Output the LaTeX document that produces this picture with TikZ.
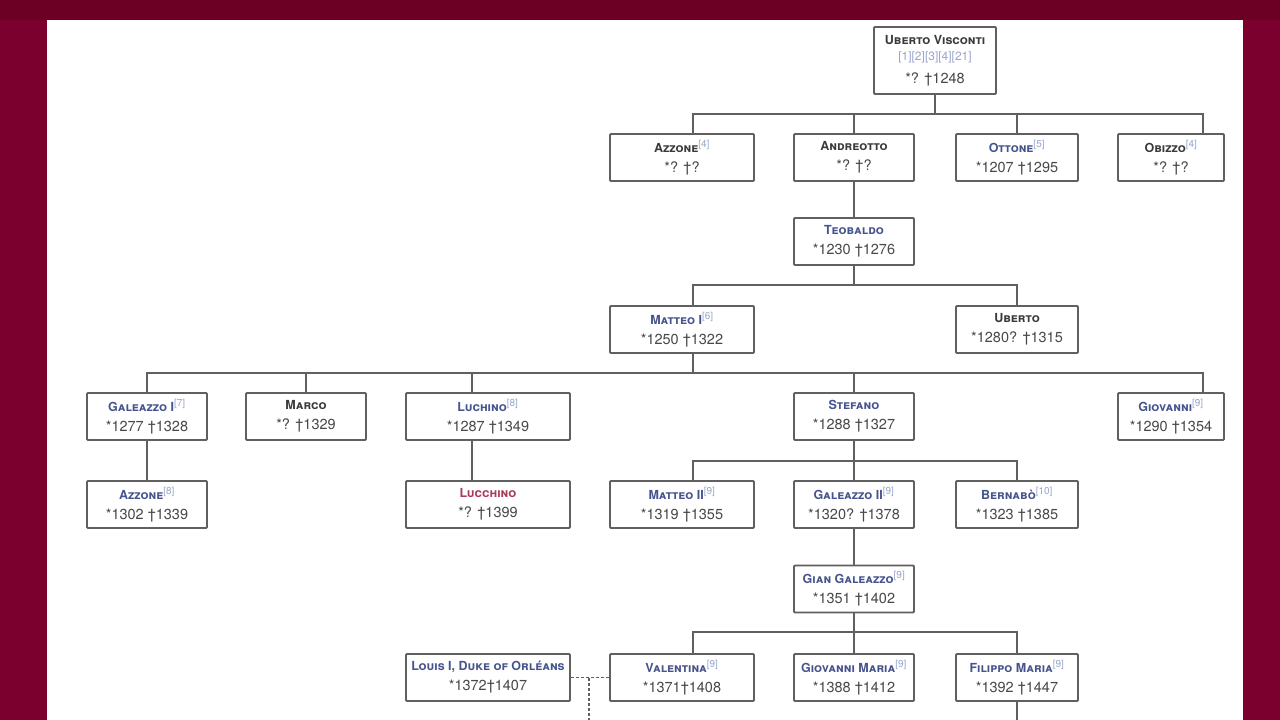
\documentclass[tikz,border=0pt]{standalone}
\usepackage{fontspec}
\setmainfont{TeX Gyre Heros}
\usepackage{xcolor}
\definecolor{framecol}{HTML}{7C002D}
\definecolor{framedark}{HTML}{6C0024}
\definecolor{linecol}{HTML}{606060}
\definecolor{namecol}{HTML}{3A3A3A}
\definecolor{linkcol}{HTML}{46548E}
\definecolor{redlinkcol}{HTML}{A83A5A}
\definecolor{refcol}{HTML}{98A6CC}
\definecolor{datecol}{HTML}{484848}
\tikzset{person/.style = {shape=rectangle,draw=linecol,line width=1.8pt,rounded corners=1pt,fill=white,
        align=center,minimum height=47pt,inner sep=0pt,text=datecol,font=\fontsize{14.5}{20}\selectfont}}
\tikzset{w106/.style = {person,minimum width=106pt}}
\tikzset{w120/.style = {person,minimum width=120pt}}
\tikzset{w122/.style = {person,minimum width=122pt}}
\tikzset{w144/.style = {person,minimum width=144pt}}
\tikzset{w164/.style = {person,minimum width=164pt}}
\tikzset{link/.style = {draw=linecol,line width=1.8pt}}
\newcommand{\plainname}[1]{{\color{namecol}\fontsize{12.5}{20}\selectfont\bfseries\textsc{#1}}}
\newcommand{\bluename}[1]{{\color{linkcol}\fontsize{12.5}{20}\selectfont\bfseries\textsc{#1}}}
\newcommand{\redname}[1]{{\color{redlinkcol}\fontsize{12.5}{20}\selectfont\bfseries\textsc{#1}}}
\newcommand{\refmark}[1]{\textsuperscript{\color{refcol}\fontsize{10}{10}\selectfont[#1]}}
\begin{document}
\begin{tikzpicture}[x=1pt,y=-1pt]
    \useasboundingbox (0,0) rectangle (1280,720);
    \fill[framecol] (0,0) rectangle (1280,720);
    \fill[framedark] (0,0) rectangle (1280,20);
    \fill[white] (47,20) rectangle (1243,720);

    \node[w122,minimum height=67pt] (uberto) at (935,60.5) {\plainname{Uberto Visconti}\\[-4pt]
        {\color{refcol}\fontsize{12}{12}\selectfont[1][2][3][4][21]}\\[3pt]*? †1248};

    \node[w144] (azzoneA) at (682,157.5) {\plainname{Azzone}\refmark{4}\\*? †?};
    \node[w120] (andreotto) at (854,157.5) {\plainname{Andreotto}\\*? †?};
    \node[w122] (ottone) at (1017,157.5) {\bluename{Ottone}\refmark{5}\\*1207 †1295};
    \node[w106] (obizzo) at (1171,157.5) {\plainname{Obizzo}\refmark{4}\\*? †?};

    \node[w120] (teobaldo) at (854,241.5) {\bluename{Teobaldo}\\*1230 †1276};

    \node[w144] (matteoA) at (682,329.5) {\bluename{Matteo I}\refmark{6}\\*1250 †1322};
    \node[w122] (ubertoB) at (1017,329.5) {\plainname{Uberto}\\*1280? †1315};

    \node[w120] (galeazzoA) at (147,416.5) {\bluename{Galeazzo I}\refmark{7}\\*1277 †1328};
    \node[w120] (marco) at (306,416.5) {\plainname{Marco}\\*? †1329};
    \node[w164] (luchino) at (488,416.5) {\bluename{Luchino}\refmark{8}\\*1287 †1349};
    \node[w120] (stefano) at (854,416.5) {\bluename{Stefano}\\*1288 †1327};
    \node[w106] (giovanni) at (1171,416.5) {\bluename{Giovanni}\refmark{9}\\*1290 †1354};

    \node[w120] (azzoneB) at (147,504.5) {\bluename{Azzone}\refmark{8}\\*1302 †1339};
    \node[w164] (lucchino) at (488,504.5) {\redname{Lucchino}\\*? †1399};
    \node[w144] (matteoB) at (682,504.5) {\bluename{Matteo II}\refmark{9}\\*1319 †1355};
    \node[w120] (galeazzoB) at (854,504.5) {\bluename{Galeazzo II}\refmark{9}\\*1320? †1378};
    \node[w122] (bernabo) at (1017,504.5) {\bluename{Bernabò}\refmark{10}\\*1323 †1385};

    \node[w120] (gian) at (854,589) {\bluename{Gian Galeazzo}\refmark{9}\\*1351 †1402};

    \node[w164] (louis) at (488,677.5) {\bluename{Louis I, Duke of Orléans}\\*1372†1407};
    \node[w144] (valentina) at (682,677.5) {\bluename{Valentina}\refmark{9}\\*1371†1408};
    \node[w120] (giovanniM) at (854,677.5) {\bluename{Giovanni Maria}\refmark{9}\\*1388 †1412};
    \node[w122] (filippo) at (1017,677.5) {\bluename{Filippo Maria}\refmark{9}\\*1392 †1447};

    % free ends of the lines
    \coordinate (busA) at (935,114);
    \coordinate (dropAzzoneA) at (693,134);
    \coordinate (dropObizzo) at (1203,134);
    \coordinate (busB) at (854,285);
    \coordinate (dropMatteoA) at (693,306);
    \coordinate (busC) at (693,373);
    \coordinate (dropLuchino) at (472,393);
    \coordinate (dropGiovanni) at (1203,393);
    \coordinate (outLuchino) at (472,440);
    \coordinate (inLucchino) at (472,481);
    \coordinate (busD) at (854,461);
    \coordinate (dropMatteoB) at (693,481);
    \coordinate (busE) at (854,632);
    \coordinate (dropValentina) at (693,654);
    \coordinate (filippoEnd) at (1017,720);
    \coordinate (marriage) at (589,677.5);
    \coordinate (marriageEnd) at (589,720);

    \draw[link] (uberto.south) -- (busA);
    \draw[link] (dropAzzoneA) |- (busA) -| (dropObizzo);
    \draw[link] (andreotto.north) -- (andreotto.north |- busA);
    \draw[link] (ottone.north) -- (ottone.north |- busA);

    \draw[link] (andreotto.south) -- (teobaldo.north);
    \draw[link] (teobaldo.south) -- (busB);
    \draw[link] (dropMatteoA) |- (busB) -| (ubertoB.north);

    \draw[link] (matteoA.south -| busC) -- (busC);
    \draw[link] (galeazzoA.north) |- (busC) -| (dropGiovanni);
    \draw[link] (marco.north) -- (marco.north |- busC);
    \draw[link] (dropLuchino) -- (dropLuchino |- busC);
    \draw[link] (stefano.north) -- (stefano.north |- busC);

    \draw[link] (galeazzoA.south) -- (azzoneB.north);
    \draw[link] (outLuchino) -- (inLucchino);
    \draw[link] (stefano.south) -- (galeazzoB.north);
    \draw[link] (dropMatteoB) |- (busD) -| (bernabo.north);
    \draw[link] (galeazzoB.south) -- (gian.north);

    \draw[link] (gian.south) -- (giovanniM.north);
    \draw[link] (dropValentina) |- (busE) -| (filippo.north);
    \draw[link] (filippo.south) -- (filippoEnd);

    \draw[link,densely dashed,line width=1.2pt] (louis.east) -- (valentina.west);
    \draw[link,densely dashed,line width=1.2pt] (marriage) -- (marriageEnd);
\end{tikzpicture}
\end{document}
